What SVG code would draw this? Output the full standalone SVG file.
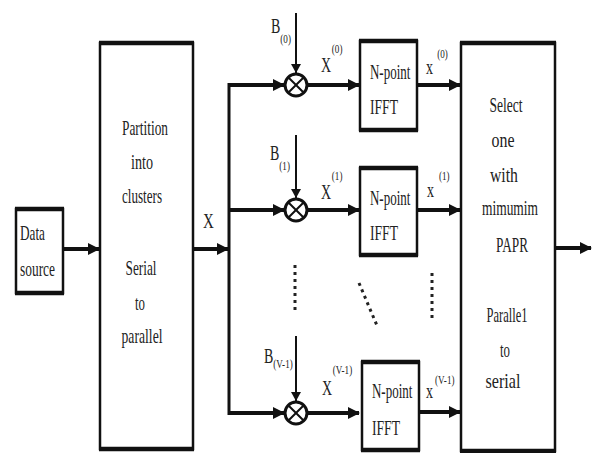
<svg xmlns="http://www.w3.org/2000/svg" width="594" height="453" viewBox="0 0 594 453">
<style>
.box{fill:#fff;stroke:#111;stroke-width:2.5}
.edge{stroke:#111;stroke-width:4.5;fill:none}
.wire{stroke:#111;stroke-width:4;fill:none}
.thin{stroke:#111;stroke-width:2;fill:none}
.dots{stroke:#222;stroke-width:3;stroke-dasharray:3 4;fill:none}
.t{font-family:"Liberation Serif","Times New Roman",serif;font-size:22px;fill:#222}
.m{text-anchor:middle}
.l{font-family:"Liberation Serif","Times New Roman",serif;font-size:20px;fill:#222}
.s{font-size:13px}
.mul{fill:#fff;stroke:#111;stroke-width:3}
</style>
<defs>
<marker id="ah" markerUnits="userSpaceOnUse" markerWidth="12" markerHeight="12" refX="11" refY="6" orient="auto">
<path d="M0,0 L12,6 L0,12 z" fill="#111"/>
</marker>
<marker id="ahs" markerUnits="userSpaceOnUse" markerWidth="9" markerHeight="10" refX="9" refY="5" orient="auto">
<path d="M0,0 L9,5 L0,10 z" fill="#111"/>
</marker>
</defs>
<rect width="594" height="453" fill="#fff"/>

<g id="connectors">
<line class="wire" x1="63" y1="249" x2="99" y2="249" marker-end="url(#ah)"/>
<line class="wire" x1="193" y1="249" x2="228" y2="249" marker-end="url(#ah)"/>
<line class="thin" x1="229" y1="83" x2="229" y2="415" style="stroke-width:3"/>
<line class="wire" x1="228" y1="85" x2="284" y2="85" marker-end="url(#ah)"/>
<line class="wire" x1="228" y1="210" x2="284" y2="210" marker-end="url(#ah)"/>
<line class="wire" x1="228" y1="413" x2="284" y2="413" marker-end="url(#ah)"/>
<line class="wire" x1="307" y1="85" x2="359" y2="85" marker-end="url(#ah)"/>
<line class="wire" x1="307" y1="210" x2="359" y2="210" marker-end="url(#ah)"/>
<line class="wire" x1="307" y1="413" x2="359" y2="413" marker-end="url(#ah)"/>
<line class="wire" x1="417" y1="85" x2="460" y2="85" marker-end="url(#ah)"/>
<line class="wire" x1="417" y1="210" x2="460" y2="210" marker-end="url(#ah)"/>
<line class="wire" x1="417" y1="412" x2="460" y2="412" marker-end="url(#ah)"/>
<line class="wire" x1="555" y1="248" x2="591" y2="248" marker-end="url(#ah)"/>
<line class="thin" x1="296" y1="13" x2="296" y2="73" marker-end="url(#ahs)"/>
<line class="thin" x1="296" y1="135" x2="296" y2="198" marker-end="url(#ahs)"/>
<line class="thin" x1="296" y1="336" x2="296" y2="401" marker-end="url(#ahs)"/>
<line class="dots" x1="295" y1="265" x2="295" y2="314"/>
<line class="dots" x1="359" y1="283" x2="378" y2="328"/>
<line class="dots" x1="432" y1="273" x2="432" y2="322"/>
</g>

<g id="data-source">
<rect class="box" x="16" y="209" width="47" height="84"/>
<line class="edge" x1="15" y1="209" x2="64" y2="209"/>
<line class="edge" x1="15" y1="293" x2="64" y2="293"/>
<text class="t" x="20" y="240" textLength="25" lengthAdjust="spacingAndGlyphs">Data</text>
<text class="t" x="20" y="276" textLength="35" lengthAdjust="spacingAndGlyphs">source</text>
</g>

<g id="partition">
<rect class="box" x="100" y="43" width="93" height="406"/>
<line class="edge" x1="99" y1="43" x2="194" y2="43"/>
<line class="edge" x1="99" y1="449" x2="194" y2="449"/>
<text class="t m" x="145" y="135" textLength="46" lengthAdjust="spacingAndGlyphs">Partition</text>
<text class="t m" x="142" y="169" textLength="22" lengthAdjust="spacingAndGlyphs">into</text>
<text class="t m" x="142" y="203" textLength="40" lengthAdjust="spacingAndGlyphs">clusters</text>
<text class="t m" x="141" y="275" textLength="31" lengthAdjust="spacingAndGlyphs">Serial</text>
<text class="t m" x="140" y="310" textLength="10" lengthAdjust="spacingAndGlyphs">to</text>
<text class="t m" x="142" y="343" textLength="41" lengthAdjust="spacingAndGlyphs">parallel</text>
</g>

<text class="l" transform="translate(203,228) scale(0.75,1)">X</text>

<g id="mult0">
<circle class="mul" cx="296" cy="85" r="11"/>
<path class="thin" d="M288.2,77.2 L303.8,92.8 M303.8,77.2 L288.2,92.8"/>
<text class="l" transform="translate(271,33) scale(0.7,1)">B<tspan class="s" dy="10">(0)</tspan></text>
<text class="l" transform="translate(321,72) scale(0.7,1)">X<tspan class="s" dy="-19" dx="1">(0)</tspan></text>
</g>

<g id="mult1">
<circle class="mul" cx="296" cy="210" r="11"/>
<path class="thin" d="M288.2,202.2 L303.8,217.8 M303.8,202.2 L288.2,217.8"/>
<text class="l" transform="translate(270,160) scale(0.7,1)">B<tspan class="s" dy="10">(1)</tspan></text>
<text class="l" transform="translate(321,199) scale(0.7,1)">X<tspan class="s" dy="-19" dx="1">(1)</tspan></text>
</g>

<g id="mult2">
<circle class="mul" cx="296" cy="413" r="11"/>
<path class="thin" d="M288.2,405.2 L303.8,420.8 M303.8,405.2 L288.2,420.8"/>
<text class="l" transform="translate(264,363) scale(0.7,1)">B<tspan class="s" dy="5">(V-1)</tspan></text>
<text class="l" transform="translate(322,395) scale(0.7,1)">X<tspan class="s" dy="-21" dx="1">(V-1)</tspan></text>
</g>

<g id="ifft0">
<rect class="box" x="360" y="41" width="57" height="89"/>
<line class="edge" x1="359" y1="41" x2="418" y2="41"/>
<line class="edge" x1="359" y1="130" x2="418" y2="130"/>
<text class="t" transform="translate(370,79) scale(0.59,1)">N-point</text>
<text class="t" transform="translate(370,114) scale(0.62,1)">IFFT</text>
<text class="l" transform="translate(426,74) scale(0.7,1)">x<tspan class="s" dy="-16" dx="6">(0)</tspan></text>
</g>

<g id="ifft1">
<rect class="box" x="360" y="168" width="57" height="87"/>
<line class="edge" x1="359" y1="168" x2="418" y2="168"/>
<line class="edge" x1="359" y1="255" x2="418" y2="255"/>
<text class="t" transform="translate(370,205) scale(0.59,1)">N-point</text>
<text class="t" transform="translate(370,240) scale(0.62,1)">IFFT</text>
<text class="l" transform="translate(427,197) scale(0.7,1)">x<tspan class="s" dy="-17" dx="7">(1)</tspan></text>
</g>

<g id="ifft2">
<rect class="box" x="362" y="362" width="57" height="88"/>
<line class="edge" x1="361" y1="362" x2="420" y2="362"/>
<line class="edge" x1="361" y1="450" x2="420" y2="450"/>
<text class="t" transform="translate(372,398) scale(0.59,1)">N-point</text>
<text class="t" transform="translate(372,435) scale(0.62,1)">IFFT</text>
<text class="l" transform="translate(426,398) scale(0.7,1)">x<tspan class="s" dy="-14" dx="3">(V-1)</tspan></text>
</g>

<g id="select">
<rect class="box" x="461" y="43" width="94" height="408"/>
<line class="edge" x1="460" y1="43" x2="556" y2="43"/>
<line class="edge" x1="460" y1="451" x2="556" y2="451"/>
<text class="t m" x="506" y="112" textLength="33" lengthAdjust="spacingAndGlyphs">Select</text>
<text class="t m" x="503" y="147" textLength="23" lengthAdjust="spacingAndGlyphs">one</text>
<text class="t m" x="504" y="182" textLength="28" lengthAdjust="spacingAndGlyphs">with</text>
<text class="t m" x="510" y="215" textLength="56" lengthAdjust="spacingAndGlyphs">mimumim</text>
<text class="t m" x="512" y="252" textLength="32" lengthAdjust="spacingAndGlyphs">PAPR</text>
<text class="t m" x="507" y="322" textLength="41" lengthAdjust="spacingAndGlyphs">Paralle1</text>
<text class="t m" x="505" y="357" textLength="10" lengthAdjust="spacingAndGlyphs">to</text>
<text class="t m" x="503" y="388" textLength="35" lengthAdjust="spacingAndGlyphs">serial</text>
</g>
</svg>
